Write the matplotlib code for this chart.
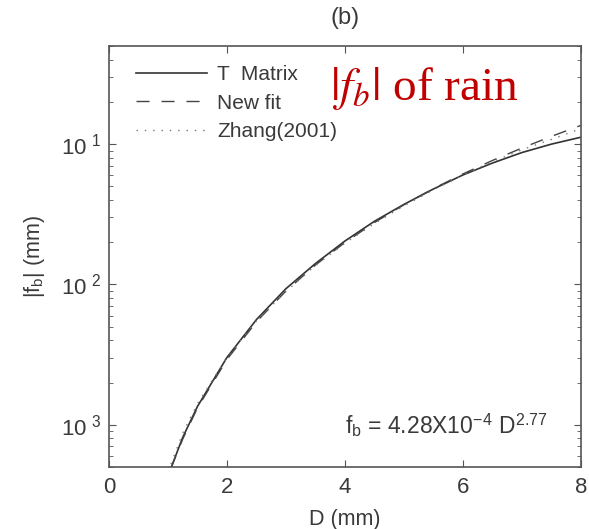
import numpy as np
import matplotlib
matplotlib.use("Agg")
import matplotlib.pyplot as plt
from matplotlib.ticker import LogLocator, NullFormatter, FixedLocator

# Drop diameter D (mm)
diam = [1.05, 1.25, 1.5, 2.0, 2.5, 3.0, 3.5, 4.0, 4.5, 5.0, 5.5, 6.0, 6.5, 7.0, 7.5, 8.0]

# |f_b| for each curve
t_matrix = [4.90e-4, 8.13e-4, 1.35e-3, 3.02e-3, 5.62e-3, 9.33e-3, 0.0141, 0.0204,
            0.0282, 0.0372, 0.0479, 0.0603, 0.0733, 0.0871, 0.100, 0.112]
new_fit = [4.90e-4, 7.90e-4, 1.32e-3, 2.92e-3, 5.42e-3, 8.98e-3, 0.01375, 0.0199,
           0.0276, 0.0370, 0.0482, 0.0613, 0.0765, 0.0938, 0.1136, 0.136]
zhang = [5.25e-4, 8.71e-4, 1.41e-3, 3.02e-3, 5.50e-3, 8.91e-3, 0.01365, 0.0197,
         0.0272, 0.0363, 0.0473, 0.0603, 0.0750, 0.0912, 0.108, 0.129]

xticks = [0, 2, 4, 6, 8]
yticks = [1e-3, 1e-2, 1e-1]
ytick_labels = [r"$\mathregular{10^{\ 3}}$", r"$\mathregular{10^{\ 2}}$", r"$\mathregular{10^{\ 1}}$"]

plt.rcParams["font.family"] = ["Liberation Sans", "DejaVu Sans"]
plt.rcParams["lines.scale_dashes"] = False
txt_col = "#3a3a3a"
spine_col = "#555555"

fig = plt.figure(figsize=(5.89, 5.29), dpi=100)
ax = fig.add_axes([0.185, 0.1172, 0.8014, 0.7958])

ax.plot(diam, t_matrix, color="#333333", lw=1.2, label="T  Matrix")
ax.plot(diam, new_fit, color="#444444", lw=1.0, linestyle=(0, (9.4, 8.6)), label="New fit")
ax.plot(diam, zhang, color="#777777", lw=1.0, linestyle=(0, (1, 5)), label="Zhang(2001)")

ax.set_yscale("log")
ax.set_xlim(0, 8)
ax.set_ylim(5e-4, 0.5)
ax.xaxis.set_major_locator(FixedLocator(xticks))
ax.set_yticks(yticks)
ax.set_yticklabels(ytick_labels)
ax.yaxis.set_minor_locator(LogLocator(base=10, subs=np.arange(2, 10)))
ax.yaxis.set_minor_formatter(NullFormatter())

ax.tick_params(which="both", direction="in", top=True, right=True,
               color=spine_col, labelcolor=txt_col, labelsize=16)
ax.tick_params(which="major", length=5)
ax.tick_params(which="minor", length=3)
ax.tick_params(axis="x", pad=7)
ax.tick_params(axis="y", pad=6)
for s in ax.spines.values():
    s.set_color(spine_col)
    s.set_linewidth(1.2)

ax.set_xlabel("D (mm)", fontsize=15.5, color=txt_col)
ax.xaxis.set_label_coords(0.5, -0.099)
ax.set_ylabel(r"$\mathregular{|f_b|}$ (mm)", fontsize=15.5, color=txt_col)
ax.yaxis.set_label_coords(-0.132, 0.5)

fig.text(0.586, 1 - 18 / 529, "(b)", ha="center", va="center", fontsize=17, color=txt_col)

leg = ax.legend(loc="upper left", bbox_to_anchor=(0.057, 0.955), frameon=False,
                fontsize=15, handlelength=3.4, handletextpad=0.5,
                labelspacing=0.46, borderpad=0, borderaxespad=0)
for t in leg.get_texts():
    t.set_color(txt_col)

plt.rcParams["mathtext.fontset"] = "stix"
ax.text(0.468, 0.872, r"$|f_b|$ of rain", transform=ax.transAxes, fontsize=34,
        color="#c00000", family="Liberation Serif", va="baseline", ha="left")

ax.text(0.5, 0.081, r"$\mathregular{f_b}$ = 4.28X10$^{\mathregular{-4}}$ D$^{\mathregular{2.77}}$",
        transform=ax.transAxes, fontsize=16.5, color=txt_col, va="baseline", ha="left")

fig.savefig("out.png", dpi=100)
